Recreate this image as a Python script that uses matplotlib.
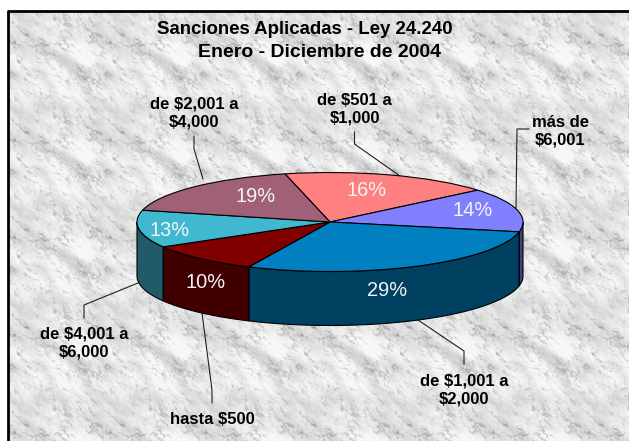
import numpy as np
import matplotlib
matplotlib.use("Agg")
import matplotlib.pyplot as plt
from matplotlib.patches import Wedge, Polygon
from matplotlib.transforms import Affine2D

plt.rcParams["font.family"] = ["Liberation Sans", "DejaVu Sans"]

# sectores medidos sobre la figura (en sentido horario desde el 16%)
etiquetas = ["16%", "14%", "29%", "10%", "13%", "19%"]
sectores = [17.6, 14.3, 28.7, 9.7, 12.2, 17.4]
colores = ["#FF8080", "#8080FF", "#0080C0", "#800000", "#40B8D0", "#A06078"]
lados = ["#804040", "#404080", "#004060", "#400000", "#205C68", "#50303C"]
pos_pct = [(367, 191), (473, 211), (387, 290), (206, 282), (170, 231), (256, 196)]

rangos = [
    ("de $501 a\n$1,000", 354.5, 109),
    ("más de\n$6,001", 560, 131),
    ("de $1,001 a\n$2,000", 464, 390),
    ("hasta $500", 212, 419),
    ("de $4,001 a\n$6,000", 84, 343),
    ("de $2,001 a\n$4,000", 194, 113),
]
guias = [
    [(354.5, 132), (354.5, 144), (400, 176)],
    [(529, 129), (517, 129), (516, 208)],
    [(464, 364), (464, 351), (418, 320)],
    [(212, 403), (212, 390), (202, 313)],
    [(84, 318), (84, 305), (138, 283)],
    [(194, 136), (194, 149), (203, 179)],
]

# centro y radios de la torta en pixeles
cx, cy = 330, 222
ra, rb = 193, 49.5
alto = 54
inicio = 103.5


def ruido(ny, nx, semilla, corte, estira=1.8):
    # ruido periodico para que el marmol quede en mosaico como el original
    rng = np.random.default_rng(semilla)
    f = np.fft.fft2(rng.normal(size=(ny, nx)))
    fy = np.fft.fftfreq(ny)[:, None]
    fx = np.fft.fftfreq(nx)[None, :]
    # estirado en diagonal
    u = (fx + fy) * estira
    v = (fx - fy) * 0.7
    f = f * np.exp(-(u ** 2 + v ** 2) / corte ** 2)
    r = np.fft.ifft2(f).real
    return r / r.std()


def marmol():
    ny, nx = 100, 97
    base = ruido(ny, nx, 4, 0.06)
    v1 = ruido(ny, nx, 11, 0.10) + 0.30 * ruido(ny, nx, 12, 0.30, 1.0)
    v2 = ruido(ny, nx, 23, 0.16) + 0.30 * ruido(ny, nx, 24, 0.35, 1.0)
    m1 = np.clip(ruido(ny, nx, 41, 0.08) * 0.8 + 0.6, 0, 1)
    m2 = np.clip(ruido(ny, nx, 42, 0.09) * 0.8 + 0.5, 0, 1)
    fino = ruido(ny, nx, 31, 0.40)
    t = 0.90 + 0.04 * base + 0.015 * fino
    t = t - 0.17 * m1 * np.exp(-(v1 / 0.28) ** 2) - 0.14 * m2 * np.exp(-(v2 / 0.25) ** 2)
    t = np.clip(t, 0.60, 0.97)
    return np.tile(t, (5, 7))[:441, :629]


fig = plt.figure(figsize=(6.29, 4.41), dpi=100, facecolor="white")
ax = fig.add_axes([0, 0, 1, 1])
ax.set_xlim(0, 629)
ax.set_ylim(441, 0)
ax.axis("off")

tex = marmol()
ax.imshow(np.dstack([tex, tex, tex * 1.005]).clip(0, 1), extent=(8, 629, 441, 11), aspect="auto",
          interpolation="bilinear", zorder=0)
ax.set_xlim(0, 629)
ax.set_ylim(441, 0)
ax.plot([8, 8], [441, 10.5], color="black", lw=2, zorder=1, solid_capstyle="butt")
ax.plot([7, 629], [10.5, 10.5], color="black", lw=2, zorder=1, solid_capstyle="butt")

for g in guias:
    xs, ys = zip(*g)
    ax.plot(xs, ys, color="#202020", lw=0.8, zorder=2)

escala = Affine2D().scale(ra, -rb).translate(cx, cy) + ax.transData
angulos = inicio - np.cumsum([0] + sectores) * 360.0 / sum(sectores)

for i in range(len(sectores)):
    hi, lo = angulos[i], angulos[i + 1]
    # pared lateral: solo la parte del frente
    for k in (-360, 0, 360):
        a = max(lo + k, 180)
        b = min(hi + k, 360)
        if b > a:
            t = np.radians(np.linspace(a, b, 60))
            xa = cx + ra * np.cos(t)
            ya = cy - rb * np.sin(t)
            pts = np.r_[np.c_[xa, ya], np.c_[xa, ya + alto][::-1]]
            ax.add_patch(Polygon(pts, closed=True, fc=lados[i], ec="black", lw=0.8, zorder=3))
    ax.add_patch(Wedge((0, 0), 1, lo, hi, fc=colores[i], ec="black", lw=0.8,
                       transform=escala, zorder=4))

for e, (x, y) in zip(etiquetas, pos_pct):
    ax.text(x, y, e, color="#F4F4F4", fontsize=14.4, ha="center", va="center", zorder=5)

ax.text(305, 30, "Sanciones Aplicadas - Ley 24.240", fontsize=13.4, fontweight="bold",
        ha="center", va="center", color="black", zorder=5)
ax.text(319, 52.5, "Enero - Diciembre de 2004", fontsize=14, fontweight="bold",
        ha="center", va="center", color="black", zorder=5)

for txt, x, y in rangos:
    ax.text(x, y, txt, fontsize=12, fontweight="bold", ha="center", va="center",
            color="black", linespacing=1.2, zorder=5)

fig.savefig("out.png", dpi=100)
